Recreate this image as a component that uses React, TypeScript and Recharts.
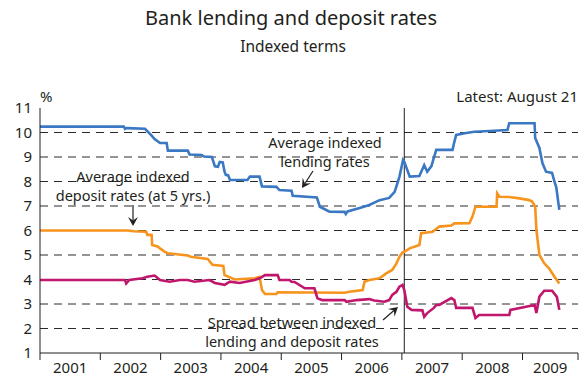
import { LineChart, Line, XAxis, YAxis, ReferenceLine, ReferenceArea } from 'recharts';

document.body.style.margin = '0';

const FONT = "'Noto Sans', sans-serif";
const INK = '#231f20';

// year boundaries for the x-axis; the last one is the end of the axis
const yearTicks = [2001, 2002, 2003, 2004, 2005, 2006, 2007, 2008, 2009, 2009.92];
const yearLabels = ['2001', '2002', '2003', '2004', '2005', '2006', '2007', '2008', '2009', ''];
const rateTicks = [1, 2, 3, 4, 5, 6, 7, 8, 9, 10, 11];
const gridLevels = [2, 3, 4, 5, 6, 7, 8, 9, 10];
const breakYear = 2007.04;

// [year, %]
const lending: [number, number][] = [
  [2001.0, 10.24], [2002.39, 10.24], [2002.41, 10.15], [2002.44, 10.18], [2002.74, 10.15],
  [2002.84, 9.9], [2002.9, 9.73], [2002.99, 9.57], [2003.1, 9.57], [2003.12, 9.26],
  [2003.45, 9.26], [2003.48, 9.1], [2003.68, 9.08], [2003.72, 9.02], [2003.85, 9.0],
  [2003.9, 8.62], [2003.95, 8.6], [2003.98, 8.8], [2004.03, 8.78], [2004.06, 8.4],
  [2004.08, 8.27], [2004.12, 8.25], [2004.15, 8.06], [2004.44, 8.06], [2004.48, 8.2],
  [2004.64, 8.2], [2004.68, 7.8], [2004.92, 7.78], [2004.97, 7.65], [2005.17, 7.62],
  [2005.19, 7.42], [2005.59, 7.35], [2005.64, 6.97], [2005.8, 6.77], [2006.05, 6.76],
  [2006.07, 6.67], [2006.1, 6.78], [2006.3, 6.92], [2006.46, 7.04], [2006.63, 7.24],
  [2006.79, 7.33], [2006.88, 7.58], [2006.96, 8.2], [2007.02, 8.88], [2007.04, 8.8],
  [2007.13, 8.2], [2007.29, 8.22], [2007.37, 8.67], [2007.42, 8.4], [2007.49, 8.63],
  [2007.52, 8.88], [2007.57, 9.29], [2007.84, 9.29], [2007.87, 9.62], [2007.9, 9.9],
  [2008.04, 9.97], [2008.2, 10.03], [2008.45, 10.06], [2008.75, 10.1], [2008.78, 10.38],
  [2009.2, 10.38], [2009.21, 9.78], [2009.28, 9.37], [2009.33, 8.75], [2009.39, 8.4],
  [2009.49, 8.35], [2009.53, 7.99], [2009.56, 7.76], [2009.61, 6.84],
];

const deposit: [number, number][] = [
  [2001.0, 6.0], [2002.46, 6.0], [2002.55, 5.97], [2002.76, 5.95], [2002.78, 5.82],
  [2002.85, 5.82], [2002.86, 5.41], [2002.95, 5.35], [2002.99, 5.27], [2003.07, 5.13],
  [2003.12, 5.07], [2003.45, 4.98], [2003.5, 4.93], [2003.78, 4.84], [2003.86, 4.6],
  [2004.04, 4.55], [2004.06, 4.18], [2004.23, 4.0], [2004.56, 4.05], [2004.64, 4.11],
  [2004.68, 3.57], [2004.73, 3.41], [2004.92, 3.41], [2004.94, 3.48], [2006.05, 3.46],
  [2006.13, 3.5], [2006.35, 3.57], [2006.38, 3.91], [2006.46, 3.98], [2006.63, 4.05],
  [2006.74, 4.25], [2006.84, 4.39], [2006.91, 4.66], [2006.96, 4.93], [2007.01, 5.1],
  [2007.04, 5.13], [2007.13, 5.27], [2007.29, 5.41], [2007.32, 5.89], [2007.51, 5.95],
  [2007.62, 6.16], [2007.82, 6.2], [2007.87, 6.29], [2008.12, 6.3], [2008.17, 6.57],
  [2008.22, 6.97], [2008.57, 6.97], [2008.58, 7.52], [2008.62, 7.38], [2008.78, 7.37],
  [2008.95, 7.31], [2009.11, 7.24], [2009.16, 7.18], [2009.21, 6.97], [2009.23, 6.02],
  [2009.28, 5.0], [2009.36, 4.66], [2009.44, 4.46], [2009.53, 4.11], [2009.61, 3.84],
];

const spread: [number, number][] = [
  [2001.0, 3.98], [2002.41, 3.98], [2002.43, 3.84], [2002.48, 3.98], [2002.7, 4.05],
  [2002.78, 4.11], [2002.9, 4.16], [2002.99, 3.98], [2003.15, 3.91], [2003.32, 3.98],
  [2003.45, 3.98], [2003.56, 3.91], [2003.81, 3.98], [2003.9, 3.86], [2004.06, 3.78],
  [2004.15, 3.91], [2004.31, 3.86], [2004.56, 3.98], [2004.64, 4.05], [2004.73, 4.18],
  [2004.94, 4.18], [2004.97, 3.98], [2005.14, 3.98], [2005.17, 3.91], [2005.22, 3.9],
  [2005.39, 3.64], [2005.55, 3.64], [2005.6, 3.23], [2005.68, 3.16], [2006.05, 3.16],
  [2006.08, 3.09], [2006.25, 3.16], [2006.46, 3.2], [2006.54, 3.14], [2006.71, 3.09],
  [2006.79, 3.16], [2006.84, 3.37], [2006.91, 3.5], [2006.96, 3.71], [2007.01, 3.78],
  [2007.04, 3.57], [2007.09, 2.89], [2007.16, 2.76], [2007.34, 2.74], [2007.37, 2.48],
  [2007.42, 2.63], [2007.53, 2.84], [2007.57, 2.96], [2007.62, 2.96], [2007.82, 3.24],
  [2007.87, 3.16], [2007.9, 2.84], [2008.17, 2.84], [2008.22, 2.43], [2008.28, 2.55],
  [2008.78, 2.55], [2008.8, 2.76], [2009.2, 2.96], [2009.23, 2.63], [2009.28, 3.3],
  [2009.36, 3.54], [2009.49, 3.54], [2009.57, 3.29], [2009.61, 2.76],
];

const toPoints = (series: [number, number][]) => series.map(([x, y]) => ({ x, y }));

const WIDTH = 586;
const HEIGHT = 376;
const MARGIN = { top: 108, right: 8, bottom: 0, left: 0 };
const Y_AXIS_W = 40;
const PX_PER_YEAR =
  (WIDTH - MARGIN.left - MARGIN.right - Y_AXIS_W) / (yearTicks[yearTicks.length - 1] - yearTicks[0]);

function YearTick(props: any) {
  const { x, y, payload } = props;
  const i = yearTicks.indexOf(payload.value);
  const label = yearLabels[i];
  if (!label) return null;
  const half = ((yearTicks[i + 1] - yearTicks[i]) * PX_PER_YEAR) / 2;
  return (
    <text x={x + half} y={y} dy="0.71em" textAnchor="middle" fill={INK} fontSize={15} fontFamily={FONT}>
      {label}
    </text>
  );
}

function Note({ x, y, lines, size = 15, anchor = 'center' }: { x: number; y: number; lines: string[]; size?: number; anchor?: 'center' | 'left' | 'right' }) {
  const shift = anchor === 'center' ? '-50%' : anchor === 'right' ? '-100%' : '0';
  return (
    <div
      style={{
        position: 'absolute',
        left: x,
        top: y,
        transform: `translate(${shift}, -50%)`,
        fontFamily: FONT,
        fontSize: size,
        lineHeight: 1.32,
        color: INK,
        textAlign: anchor === 'right' ? 'right' : 'center',
        whiteSpace: 'nowrap',
        pointerEvents: 'none',
      }}
    >
      {lines.map((l) => (
        <div key={l}>{l}</div>
      ))}
    </div>
  );
}

function Arrow({ x1, y1, x2, y2 }: { x1: number; y1: number; x2: number; y2: number }) {
  const a = Math.atan2(y2 - y1, x2 - x1);
  const len = 9;
  const w = 5;
  const bx = x2 - len * Math.cos(a);
  const by = y2 - len * Math.sin(a);
  const px = -Math.sin(a) * w;
  const py = Math.cos(a) * w;
  const mx = x2 - len * 0.6 * Math.cos(a);
  const my = y2 - len * 0.6 * Math.sin(a);
  return (
    <g>
      <line x1={x1} y1={y1} x2={mx} y2={my} stroke={INK} strokeWidth={1.2} />
      <path d={`M${x2},${y2} L${bx + px},${by + py} L${mx},${my} L${bx - px},${by - py} Z`} fill={INK} />
    </g>
  );
}

export default function App() {
  return (
    <div style={{ position: 'relative', width: WIDTH, height: HEIGHT, background: '#fff', fontFamily: FONT }}>
      <LineChart width={WIDTH} height={HEIGHT} margin={MARGIN}>
        <XAxis
          dataKey="x"
          type="number"
          domain={[yearTicks[0], yearTicks[yearTicks.length - 1]]}
          ticks={yearTicks}
          interval={0}
          allowDataOverflow
          height={HEIGHT - 353}
          tickSize={7}
          tickMargin={2}
          stroke={INK}
          tickLine={{ stroke: INK }}
          tick={<YearTick />}
        />
        <YAxis
          type="number"
          domain={[1, 11]}
          ticks={rateTicks}
          interval={0}
          width={Y_AXIS_W}
          tickLine={false}
          stroke={INK}
          tick={{ fill: INK, fontSize: 15, fontFamily: FONT }}
        />
        {gridLevels.map((v) => (
          <ReferenceLine key={v} y={v} stroke="#2a2a2a" strokeWidth={1} strokeDasharray="8 6" />
        ))}
        <ReferenceArea x1={2004.06} x2={2006.88} y1={8.5} y2={9.75} fill="#fff" fillOpacity={1} stroke="none" />
        <ReferenceArea x1={2001.02} x2={2004.1} y1={6.75} y2={8.6} fill="#fff" fillOpacity={1} stroke="none" />
        <ReferenceArea x1={2003.52} x2={breakYear} y1={1.05} y2={2.7} fill="#fff" fillOpacity={1} stroke="none" />
        <ReferenceLine x={breakYear} stroke={INK} strokeWidth={1} />
        <Line data={toPoints(lending)} dataKey="y" stroke="#3b78c3" strokeWidth={2.6} dot={false} isAnimationActive={false} />
        <Line data={toPoints(deposit)} dataKey="y" stroke="#f7941e" strokeWidth={2.6} dot={false} isAnimationActive={false} />
        <Line data={toPoints(spread)} dataKey="y" stroke="#c0176c" strokeWidth={2.6} dot={false} isAnimationActive={false} />
      </LineChart>

      <Note x={291} y={18} lines={['Bank lending and deposit rates']} size={20} />
      <Note x={293} y={46} lines={['Indexed terms']} size={15.5} />
      <Note x={40} y={97} lines={['%']} size={15} anchor="left" />
      <Note x={578} y={97} lines={['Latest: August 21']} size={15} anchor="right" />
      <Note x={325} y={152} lines={['Average indexed', 'lending rates']} size={14.5} />
      <Note x={133} y={186} lines={['Average indexed', 'deposit rates (at 5 yrs.)']} size={14.5} />
      <Note x={292} y={332} lines={['Spread between indexed', 'lending and deposit rates']} size={14.5} />

      <svg width={WIDTH} height={HEIGHT} style={{ position: 'absolute', left: 0, top: 0, pointerEvents: 'none' }}>
        <Arrow x1={133} y1={205} x2={133} y2={226} />
        <Arrow x1={313} y1={171} x2={302} y2={188} />
        <Arrow x1={383} y1={320} x2={398} y2={307} />
      </svg>
    </div>
  );
}
